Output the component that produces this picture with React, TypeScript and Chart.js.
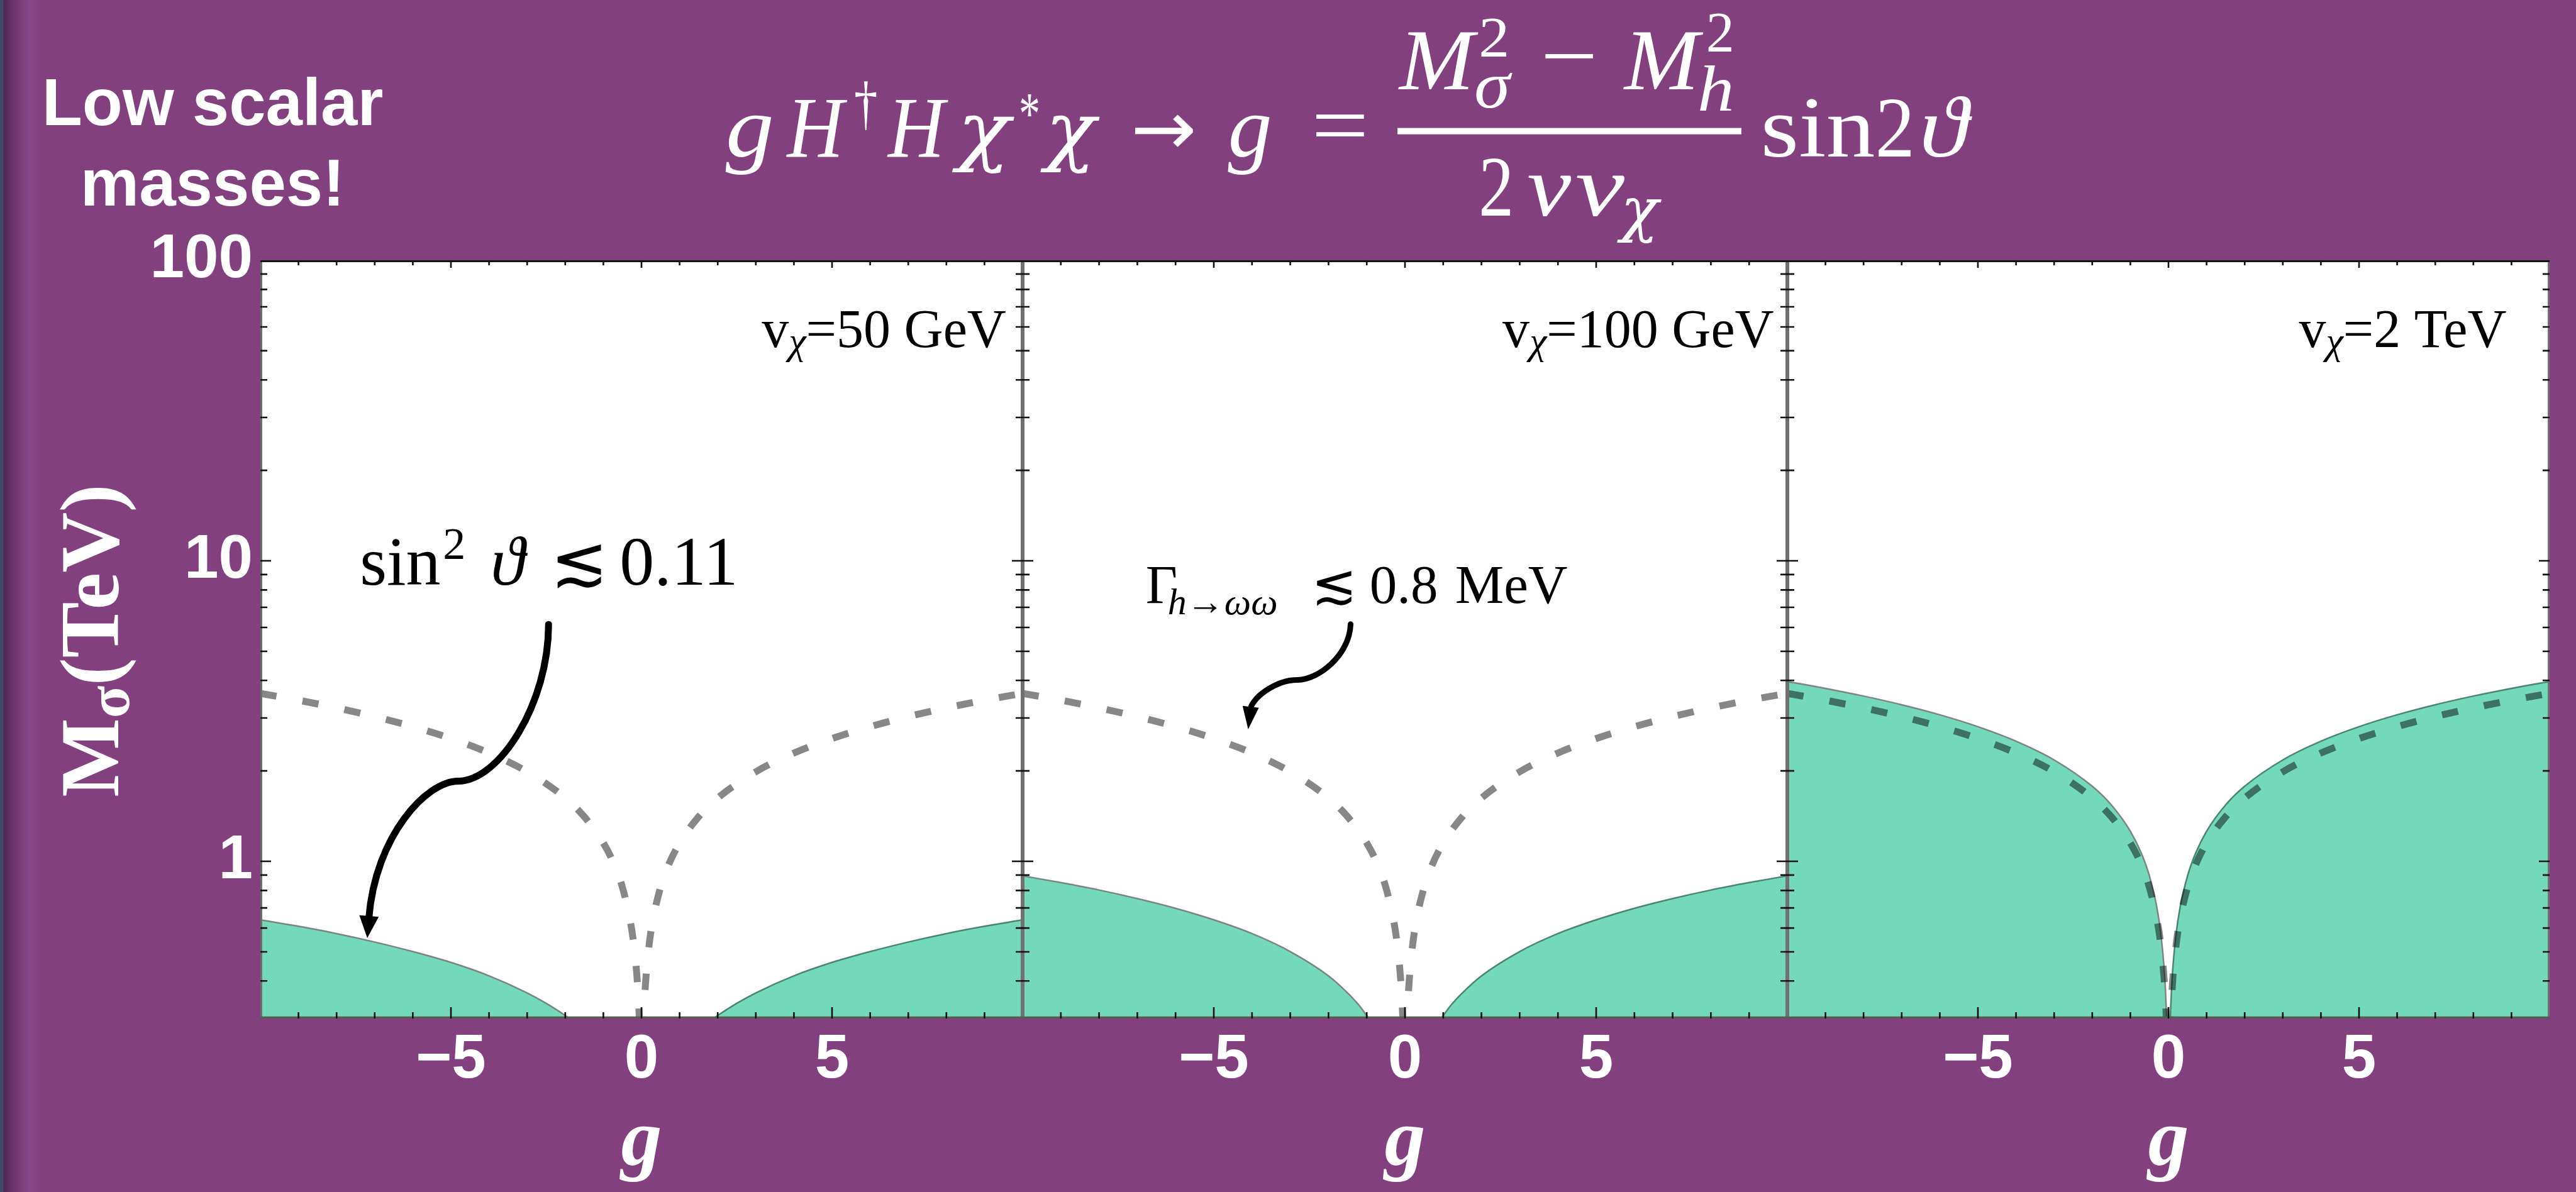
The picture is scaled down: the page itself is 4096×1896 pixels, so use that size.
import React, { useEffect, useRef } from 'react';
import { Chart, registerables } from 'chart.js';

Chart.register(...registerables);

// ---------------- values ----------------
const X_MIN = -10;
const X_MAX = 10;
const Y_MIN = 0.3;
const Y_MAX = 100;
const X_TICK_VALUES = [-10, -5, 0, 5, 10];
const X_TICK_LABELS = ['', '\u22125', '0', '5', ''];
const Y_TICK_VALUES = [1, 10, 100];
const Y_TICK_LABELS = ['1', '10', '100'];
const PANEL_VCHI = ['50 GeV', '100 GeV', '2 TeV'];

// boundary of the shaded region: |g|  ->  M_sigma (TeV)
const G_SOLID_50 = [1.89, 2, 2.5, 3, 4, 5, 6, 7, 8, 9, 10];
const M_SOLID_50 = [0.3, 0.307, 0.337, 0.365, 0.416, 0.461, 0.501, 0.539, 0.575, 0.608, 0.639];
const G_SOLID_100 = [0.946, 1.2, 1.5, 2, 3, 4, 5, 6, 7, 8, 9, 10];
const M_SOLID_100 = [0.3, 0.332, 0.365, 0.416, 0.501, 0.575, 0.639, 0.698, 0.752, 0.803, 0.85, 0.895];
const G_SOLID_2000 = [0.0473, 0.08, 0.12, 0.2, 0.3, 0.5, 0.7, 1, 1.5, 2, 3, 4, 5, 6, 7, 8, 9, 10];
const M_SOLID_2000 = [0.3, 0.376, 0.452, 0.574, 0.698, 0.895, 1.056, 1.26, 1.541, 1.778, 2.175, 2.511, 2.806, 3.074, 3.32, 3.548, 3.763, 3.967];

// dashed bound (Gamma_h->ww < 0.8 MeV), same in every panel: |g| -> M_sigma (TeV)
const G_DASH = [0.057, 0.06, 0.08, 0.12, 0.2, 0.3, 0.5, 0.7, 1, 1.5, 2, 3, 4, 5, 6, 7, 8, 9, 10];
const M_DASH = [0.3, 0.307, 0.347, 0.416, 0.527, 0.639, 0.819, 0.966, 1.151, 1.407, 1.624, 1.986, 2.293, 2.562, 2.806, 3.031, 3.24, 3.436, 3.622];

// annotation anchors in data coordinates (g, M_sigma)
const ARROW1_G = [-2.438, -2.438, -3.73, -4.813, -5.636, -6.98, -7.195];
const ARROW1_M = [6.143, 3.352, 1.849, 1.849, 1.849, 1.218, 0.556];
const ARROW2_G = [-1.422, -1.452, -2.28, -2.807, -3.409, -4.011, -4.101];
const ARROW2_M = [6.154, 4.831, 4.016, 4.016, 4.016, 3.471, 2.75];
const NOTE1_AT = [-7.39, 8.34];
const NOTE2_AT = [-6.78, 7.24];
const LABEL_G = [9.57, 9.65, 8.87];
const LABEL_M = 51.4;

const SOLID_G = [G_SOLID_50, G_SOLID_100, G_SOLID_2000];
const SOLID_M = [M_SOLID_50, M_SOLID_100, M_SOLID_2000];

// ---------------- layout / style ----------------
const W = 4096;
const H = 1896;
const PLOT_TOP = 414;
const PLOT_BOTTOM = 1620;
const EDGES = [414, 1626, 2842, 4054];
const PAD = 30;
const PURPLE = '#82407e';
const GREEN = '#74d8ba';
const SANS = "'Liberation Sans', Arial, sans-serif";
const SERIF = "'Liberation Serif', 'Times New Roman', 'DejaVu Serif', serif";
const DV_SERIF = "'DejaVu Serif', 'Liberation Serif', serif";
const DV_SANS = "'DejaVu Sans', 'Liberation Sans', sans-serif";

function drawArrow(ctx: CanvasRenderingContext2D, p: { x: number; y: number }[], lw: number, headW: number, headL: number) {
  const [p0, c1, c2, p1, c3, c4, p2] = p;
  const dx = p2.x - c4.x;
  const dy = p2.y - c4.y;
  const len = Math.hypot(dx, dy) || 1;
  const ux = dx / len;
  const uy = dy / len;
  const base = { x: p2.x - ux * headL * 0.9, y: p2.y - uy * headL * 0.9 };
  ctx.save();
  ctx.strokeStyle = '#000';
  ctx.fillStyle = '#000';
  ctx.lineWidth = lw;
  ctx.lineCap = 'round';
  ctx.beginPath();
  ctx.moveTo(p0.x, p0.y);
  ctx.bezierCurveTo(c1.x, c1.y, c2.x, c2.y, p1.x, p1.y);
  ctx.bezierCurveTo(c3.x, c3.y, c4.x, c4.y, base.x, base.y);
  ctx.stroke();
  const bx = p2.x - ux * headL;
  const by = p2.y - uy * headL;
  ctx.beginPath();
  ctx.moveTo(p2.x, p2.y);
  ctx.lineTo(bx - uy * headW / 2, by + ux * headW / 2);
  ctx.lineTo(bx + uy * headW / 2, by - ux * headW / 2);
  ctx.closePath();
  ctx.fill();
  ctx.restore();
}

function makePlugin(idx: number) {
  return {
    id: 'panelDeco' + idx,
    beforeDraw(chart: any) {
      const { ctx, chartArea: a } = chart;
      ctx.save();
      ctx.fillStyle = '#ffffff';
      ctx.fillRect(a.left, a.top, a.right - a.left, a.bottom - a.top);
      ctx.restore();
    },
    afterDraw(chart: any) {
      const { ctx, chartArea: a } = chart;
      const xs = chart.scales.x;
      const ys = chart.scales.y;
      const px = (g: number) => xs.getPixelForValue(g);
      const py = (m: number) => ys.getPixelForValue(m);

      ctx.save();
      ctx.beginPath();
      ctx.rect(a.left, a.top, a.right - a.left, a.bottom - a.top);
      ctx.clip();
      ctx.textBaseline = 'alphabetic';
      ctx.textAlign = 'left';
      ctx.fillStyle = '#000';

      // panel label  v_chi = ...
      {
        const fMain = `86px ${SERIF}`;
        const fSub = `italic 62px ${SERIF}`;
        const rest = '=' + PANEL_VCHI[idx];
        ctx.font = fMain;
        const wV = ctx.measureText('v').width;
        const wRest = ctx.measureText(rest).width;
        ctx.font = fSub;
        const wChi = ctx.measureText('\u03C7').width;
        const xr = px(LABEL_G[idx]);
        const yb = py(LABEL_M);
        const x0 = xr - (wV + wChi + wRest);
        ctx.font = fMain;
        ctx.fillText('v', x0, yb);
        ctx.font = fSub;
        ctx.fillText('\u03C7', x0 + wV, yb + 10.5);
        ctx.font = fMain;
        ctx.fillText(rest, x0 + wV + wChi, yb);
      }

      if (idx === 0) {
        const x0 = px(NOTE1_AT[0]);
        const y0 = py(NOTE1_AT[1]);
        ctx.font = `110px ${SERIF}`;
        ctx.fillText('sin', x0, y0);
        ctx.font = `72px ${SERIF}`;
        ctx.fillText('2', x0 + 132, y0 - 41);
        ctx.font = `italic 110px ${SERIF}`;
        ctx.fillText('\u03D1', x0 + 208, y0);
        ctx.font = `110px ${SERIF}`;
        ctx.fillText('\u2272', x0 + 303, y0);
        ctx.fillText('0.11', x0 + 413, y0);
        const pts = ARROW1_G.map((g, i) => ({ x: px(g), y: py(ARROW1_M[i]) }));
        drawArrow(ctx, pts, 11, 31, 35);
      }
      if (idx === 1) {
        const x0 = px(NOTE2_AT[0]);
        const y0 = py(NOTE2_AT[1]);
        ctx.font = `87px ${SERIF}`;
        ctx.fillText('\u0393', x0, y0);
        ctx.font = `italic 60px ${SERIF}`;
        ctx.fillText('h\u2192\u03C9\u03C9', x0 + 35, y0 + 18);
        ctx.font = `87px ${SERIF}`;
        ctx.fillText('\u2272', x0 + 263, y0);
        ctx.fillText('0.8', x0 + 356, y0);
        ctx.fillText('MeV', x0 + 492, y0);
        const pts = ARROW2_G.map((g, i) => ({ x: px(g), y: py(ARROW2_M[i]) }));
        drawArrow(ctx, pts, 9, 26, 36);
      }
      ctx.restore();

      // frame
      ctx.save();
      ctx.lineCap = 'butt';
      ctx.strokeStyle = '#707070';
      ctx.lineWidth = 3;
      ctx.beginPath();
      ctx.moveTo(a.left + 1.5, a.top);
      ctx.lineTo(a.left + 1.5, a.bottom);
      ctx.moveTo(a.right - 1.5, a.top);
      ctx.lineTo(a.right - 1.5, a.bottom);
      ctx.stroke();
      ctx.strokeStyle = '#5a5a5a';
      ctx.lineWidth = 3.5;
      ctx.beginPath();
      ctx.moveTo(a.left, a.bottom - 1.5);
      ctx.lineTo(a.right, a.bottom - 1.5);
      ctx.stroke();
      ctx.strokeStyle = '#141414';
      ctx.lineWidth = 3;
      ctx.beginPath();
      ctx.moveTo(a.left, a.top + 1.5);
      ctx.lineTo(a.right, a.top + 1.5);
      ctx.stroke();

      // ticks (inward)
      ctx.strokeStyle = '#111';
      ctx.lineWidth = 2.6;
      ctx.beginPath();
      for (let g = X_MIN + 1; g < X_MAX; g++) {
        const x = px(g);
        const lb = g % 5 === 0 ? 18 : 10;
        const lt = g % 5 === 0 ? 12 : 8;
        ctx.moveTo(x, a.bottom);
        ctx.lineTo(x, a.bottom - lb);
        ctx.moveTo(x, a.top);
        ctx.lineTo(x, a.top + lt);
      }
      for (const d of [0.1, 1, 10]) {
        for (let k = 1; k <= 9; k++) {
          const v = k * d;
          if (v <= Y_MIN + 1e-9 || v >= Y_MAX - 1e-9) continue;
          const y = py(v);
          const l = k === 1 ? 17 : 11;
          ctx.moveTo(a.left, y);
          ctx.lineTo(a.left + l, y);
          ctx.moveTo(a.right, y);
          ctx.lineTo(a.right - l, y);
        }
      }
      ctx.stroke();
      ctx.restore();
    },
  };
}

function Panel({ idx }: { idx: number }) {
  const ref = useRef<HTMLCanvasElement>(null);
  const left = EDGES[idx];
  const right = EDGES[idx + 1];
  const cLeft = idx === 0 ? 0 : left - PAD;
  const cWidth = right + PAD - cLeft;

  useEffect(() => {
    const canvas = ref.current;
    if (!canvas) return;
    const gs = SOLID_G[idx];
    const ms = SOLID_M[idx];
    const leftBranch = gs.map((g, i) => ({ x: -g, y: ms[i] })).reverse();
    const rightBranch = gs.map((g, i) => ({ x: g, y: ms[i] }));
    const dash = [
      ...G_DASH.map((g, i) => ({ x: -g, y: M_DASH[i] })).reverse(),
      ...G_DASH.map((g, i) => ({ x: g, y: M_DASH[i] })),
    ];
    const chart = new Chart(canvas, {
      type: 'line',
      data: {
        datasets: [
          {
            data: dash,
            borderColor: 'rgba(0,0,0,0.47)',
            borderWidth: 11,
            borderDash: [26, 42],
            borderCapStyle: 'butt',
            fill: false,
            order: 0,
            clip: 0,
          } as any,
          {
            data: leftBranch,
            borderColor: 'rgba(115,115,115,0.85)',
            borderWidth: 2.5,
            backgroundColor: GREEN,
            fill: 'start',
            order: 1,
            clip: 0,
          } as any,
          {
            data: rightBranch,
            borderColor: 'rgba(60,115,95,0.85)',
            borderWidth: 2.5,
            backgroundColor: GREEN,
            fill: 'start',
            order: 1,
            clip: 0,
          } as any,
        ],
      },
      options: {
        responsive: false,
        maintainAspectRatio: false,
        animation: false,
        devicePixelRatio: 1,
        layout: { padding: { top: PLOT_TOP, bottom: 0, left: idx === 0 ? 0 : PAD, right: PAD } },
        plugins: { legend: { display: false }, tooltip: { enabled: false }, title: { display: false } },
        elements: { point: { radius: 0 }, line: { cubicInterpolationMode: 'monotone' } },
        scales: {
          x: {
            type: 'linear',
            min: X_MIN,
            max: X_MAX,
            position: 'bottom',
            grid: { display: false, drawTicks: false },
            border: { display: false },
            afterBuildTicks: (s: any) => {
              s.ticks = X_TICK_VALUES.map((v) => ({ value: v }));
            },
            afterFit: (s: any) => {
              s.height = H - PLOT_BOTTOM;
            },
            ticks: {
              autoSkip: false,
              maxRotation: 0,
              padding: 8,
              color: '#ffffff',
              font: { family: SANS, size: 98, weight: 'bold' },
              callback: (_v: any, i: number) => X_TICK_LABELS[i],
            },
            title: {
              display: true,
              text: 'g',
              color: '#ffffff',
              font: { family: SERIF, size: 130, weight: 'bold', style: 'italic', lineHeight: 1 },
              padding: { top: 0, bottom: 13 },
            },
          },
          y: {
            type: 'logarithmic',
            min: Y_MIN,
            max: Y_MAX,
            display: idx === 0,
            position: 'left',
            grid: { display: false, drawTicks: false },
            border: { display: false },
            afterBuildTicks: (s: any) => {
              s.ticks = Y_TICK_VALUES.map((v) => ({ value: v }));
            },
            afterFit: (s: any) => {
              s.width = idx === 0 ? EDGES[0] : 0;
            },
            ticks: {
              autoSkip: false,
              padding: 12,
              color: '#ffffff',
              font: { family: SANS, size: 98, weight: 'bold' },
              callback: (_v: any, i: number) => Y_TICK_LABELS[i],
            },
          },
        },
      } as any,
      plugins: [makePlugin(idx)],
    });
    return () => chart.destroy();
  }, [idx]);

  return (
    <canvas
      ref={ref}
      width={cWidth}
      height={H}
      style={{ position: 'absolute', left: cLeft, top: 0, width: cWidth, height: H, display: 'block' }}
    />
  );
}

type Piece = { t: string; x: number; y: number; s: number; it?: boolean; w: number; f?: string };
const FORMULA: Piece[] = [
  { t: 'g', x: 1153.7, y: 248.8, s: 138, it: true, w: 77 },
  { t: 'H', x: 1251.6, y: 248.8, s: 138, it: true, w: 90 },
  { t: '\u2020', x: 1358, y: 196, s: 95, w: 37.5 },
  { t: 'H', x: 1412, y: 248.8, s: 138, it: true, w: 90 },
  { t: '\u03C7', x: 1522, y: 248.8, s: 122, it: true, w: 84, f: DV_SERIF },
  { t: '*', x: 1620, y: 213, s: 95, w: 34 },
  { t: '\u03C7', x: 1662, y: 248.8, s: 122, it: true, w: 80, f: DV_SERIF },
  { t: '\u2192', x: 1797.8, y: 246, s: 120, w: 105, f: DV_SANS },
  { t: 'g', x: 1952.4, y: 248.8, s: 138, it: true, w: 70 },
  { t: '=', x: 2085.1, y: 246, s: 138, w: 91.5 },
  { t: 'M', x: 2225, y: 141.8, s: 138, it: true, w: 119 },
  { t: '2', x: 2351.3, y: 89.7, s: 92, w: 49 },
  { t: '\u03C3', x: 2344, y: 171, s: 105, it: true, w: 57 },
  { t: '\u2212', x: 2449.2, y: 135, s: 138, w: 91.5 },
  { t: 'M', x: 2582.8, y: 141.8, s: 138, it: true, w: 119 },
  { t: '2', x: 2712.7, y: 82, s: 92, w: 45 },
  { t: 'h', x: 2699, y: 175.7, s: 103, it: true, w: 58.5 },
  { t: '2', x: 2351.3, y: 343, s: 138, w: 56 },
  { t: 'v', x: 2428.2, y: 343, s: 138, it: true, w: 70 },
  { t: 'v', x: 2505, y: 343, s: 138, it: true, w: 78 },
  { t: '\u03C7', x: 2577, y: 366, s: 96, it: true, w: 60, f: DV_SERIF },
  { t: 'sin', x: 2799.6, y: 248.8, s: 138, w: 182 },
  { t: '2', x: 2981.7, y: 248.8, s: 138, w: 63 },
  { t: '\u03D1', x: 3052, y: 248.8, s: 138, it: true, w: 77 },
];

function Overlay() {
  return (
    <svg
      width={W}
      height={H}
      style={{ position: 'absolute', left: 0, top: 0, pointerEvents: 'none' }}
    >
      <g fill="#ffffff" fontFamily={SANS} fontWeight="bold" fontSize={105} textAnchor="middle">
        <text x={338} y={199}>Low scalar</text>
        <text x={338} y={327}>masses!</text>
      </g>
      <g fill="#ffffff" fontFamily={SERIF}>
        {FORMULA.map((p, i) => (
          <text
            key={i}
            x={p.x}
            y={p.y}
            fontSize={p.s}
            fontFamily={p.f || SERIF}
            fontStyle={p.it ? 'italic' : 'normal'}
            textLength={p.w}
            lengthAdjust="spacingAndGlyphs"
          >
            {p.t}
          </text>
        ))}
        <rect x={2222} y={203.6} width={547} height={10} />
      </g>
      <text
        transform="translate(187.5,1019) rotate(-90)"
        textAnchor="middle"
        fill="#ffffff"
        fontFamily={SERIF}
        fontWeight="bold"
        fontSize={133}
      >
        M<tspan fontSize={95} dy={17}>{'\u03C3'}</tspan>
        <tspan dy={-17}>(TeV)</tspan>
      </text>
    </svg>
  );
}

export default function App() {
  return (
    <div
      style={{
        position: 'fixed',
        left: 0,
        top: 0,
        width: W,
        height: H,
        overflow: 'hidden',
        background: PURPLE,
      }}
    >
      <div
        style={{
          position: 'absolute',
          left: 0,
          top: 0,
          width: 70,
          height: H,
          background:
            'linear-gradient(to right, #3c4a66 0px, #3c4a66 5px, #4e2650 6px, #6c3468 20px, #7e3e7a 36px, #8a488a 48px, #82407e 66px)',
        }}
      />
      <Panel idx={0} />
      <Panel idx={1} />
      <Panel idx={2} />
      <Overlay />
    </div>
  );
}
